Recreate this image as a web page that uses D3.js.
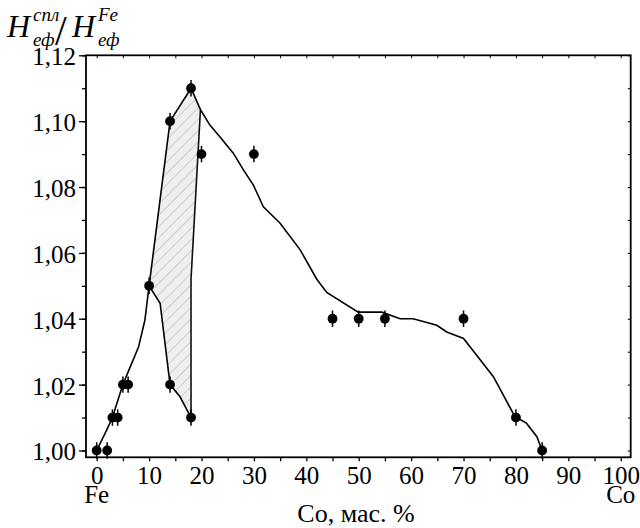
<!DOCTYPE html>
<html>
<head>
<meta charset="utf-8">
<script src="https://cdn.jsdelivr.net/npm/d3@7"></script>
</head>
<body style="margin:0;background:#fff">
<svg id="chart" width="640" height="528" style="display:block"></svg>
<script>
// ---- data ----
const pointX = [0, 2, 3, 4, 5, 6, 10, 14, 14, 18, 18, 20, 30, 45, 50, 55, 70, 80, 85];
const pointY = [1.00, 1.00, 1.01, 1.01, 1.02, 1.02, 1.05, 1.10, 1.02, 1.11, 1.01, 1.09, 1.09, 1.04, 1.04, 1.04, 1.04, 1.01, 1.00];
const errY = 0.0025;

const curveX = [0, 1.9, 3, 5, 6.4, 8, 9.2, 10, 14, 18, 19.8, 21.6, 23.5, 26.1, 28, 29.9, 31.8, 35, 38.8, 42, 43.9, 49.9, 54.4, 57.9, 60.4, 64.9, 66.8, 70, 75.7, 79.8, 82, 84, 85];
const curveY = [1.000, 1.0062, 1.010, 1.020, 1.0254, 1.0315, 1.0396, 1.050, 1.100, 1.110, 1.1035, 1.0988, 1.0953, 1.0902, 1.0852, 1.0806, 1.074, 1.069, 1.061, 1.052, 1.048, 1.042, 1.042, 1.040, 1.040, 1.038, 1.036, 1.034, 1.0224, 1.0103, 1.0083, 1.0042, 1.000];

const lowerX = [10, 12.1, 14, 15.9, 18];
const lowerY = [1.05, 1.0447, 1.02, 1.0163, 1.01];

const edgeX = [19.8, 18, 18];
const edgeY = [1.1035, 1.052, 1.01];

const hatchX = [10, 14, 18, 19.8, 18, 18, 15.9, 14, 12.1];
const hatchY = [1.05, 1.10, 1.11, 1.1035, 1.052, 1.01, 1.0163, 1.02, 1.0447];

const xTicks = [0, 10, 20, 30, 40, 50, 60, 70, 80, 90, 100];
const xMinor = [0, 5, 10, 15, 20, 25, 30, 35, 40, 45, 50, 55, 60, 65, 70, 75, 80, 85, 90, 95, 100];
const yTicks = [1.00, 1.02, 1.04, 1.06, 1.08, 1.10, 1.12];
const yMinor = [1.00, 1.01, 1.02, 1.03, 1.04, 1.05, 1.06, 1.07, 1.08, 1.09, 1.10, 1.11, 1.12];
const fmtY = d => d3.format(".2f")(d).replace(".", ",");

const FONT = "'Liberation Serif'";

// ---- layout ----
const svg = d3.select("#chart");
const pL = 86, pR = 630.7, pT = 55.3, pB = 457.3;
const x = d3.scaleLinear().domain([-2.04, 101.9]).range([pL, pR]);
const y = d3.scaleLinear().domain([0.99793, 1.12]).range([pB, pT]);

// hatch pattern
const defs = svg.append("defs");
const pat = defs.append("pattern")
  .attr("id", "hatch").attr("patternUnits", "userSpaceOnUse")
  .attr("width", 8).attr("height", 8)
  .attr("patternTransform", "rotate(45)");
pat.append("rect").attr("width", 8).attr("height", 8).attr("fill", "#efefef");
pat.append("line").attr("x1", 0).attr("y1", 0).attr("x2", 0).attr("y2", 8)
  .attr("stroke", "#9a9a9a").attr("stroke-width", 0.8);

const line = d3.line().x(d => x(d[0])).y(d => y(d[1]));

// hatched area
svg.append("path")
  .attr("d", line(hatchX.map((v, i) => [v, hatchY[i]])) + "Z")
  .attr("fill", "url(#hatch)").attr("stroke", "none");

// axes
const gx = svg.append("g").attr("transform", `translate(0,${pB})`)
  .call(d3.axisBottom(x).tickValues(xMinor).tickSize(4).tickFormat(""));
gx.select(".domain").remove();
gx.selectAll("line").attr("stroke", "#000").attr("stroke-width", 1.3);
const gxl = svg.append("g").attr("transform", `translate(0,${pB})`)
  .call(d3.axisBottom(x).tickValues(xTicks).tickSize(0).tickPadding(9).tickFormat(d3.format("d")));
gxl.select(".domain").remove();
gxl.selectAll("text").style("font-family", FONT).style("font-size", "25px").attr("fill", "#000");

const gyMinor = svg.append("g").attr("transform", `translate(${pL},0)`)
  .call(d3.axisLeft(y).tickValues(yMinor).tickSize(4).tickFormat(""));
gyMinor.select(".domain").remove();
gyMinor.selectAll("line").attr("stroke", "#000").attr("stroke-width", 1.3);
const gy = svg.append("g").attr("transform", `translate(${pL},0)`)
  .call(d3.axisLeft(y).tickValues(yTicks).tickSize(7).tickPadding(3).tickFormat(fmtY));
gy.select(".domain").remove();
gy.selectAll("line").attr("stroke", "#000").attr("stroke-width", 1.3);
gy.selectAll("text").style("font-family", FONT).style("font-size", "25px").attr("fill", "#000").attr("dy", "0.38em");

// top & right inward small ticks
const gt = svg.append("g").attr("transform", `translate(0,${pT})`)
  .call(d3.axisBottom(x).tickValues(xMinor).tickSize(3).tickFormat(""));
gt.select(".domain").remove();
gt.selectAll("line").attr("stroke", "#000").attr("stroke-width", 1);
const gr = svg.append("g").attr("transform", `translate(${pR},0)`)
  .call(d3.axisLeft(y).tickValues(yMinor).tickSize(3).tickFormat(""));
gr.select(".domain").remove();
gr.selectAll("line").attr("stroke", "#000").attr("stroke-width", 1);

// frame
svg.append("rect").attr("x", pL).attr("y", pT)
  .attr("width", pR - pL).attr("height", pB - pT)
  .attr("fill", "none").attr("stroke", "#000").attr("stroke-width", 1.8);

// lines
svg.append("path").attr("d", line(curveX.map((v, i) => [v, curveY[i]])))
  .attr("fill", "none").attr("stroke", "#000").attr("stroke-width", 1.6);
svg.append("path").attr("d", line(lowerX.map((v, i) => [v, lowerY[i]])))
  .attr("fill", "none").attr("stroke", "#000").attr("stroke-width", 1.6);
svg.append("path").attr("d", line(edgeX.map((v, i) => [v, edgeY[i]])))
  .attr("fill", "none").attr("stroke", "#111").attr("stroke-width", 1.6);

// error bars & points
const pts = pointX.map((v, i) => [v, pointY[i]]);
svg.append("g").selectAll("line").data(pts).join("line")
  .attr("x1", d => x(d[0])).attr("x2", d => x(d[0]))
  .attr("y1", d => y(d[1] - errY)).attr("y2", d => y(d[1] + errY))
  .attr("stroke", "#000").attr("stroke-width", 1.5);
svg.append("g").selectAll("circle").data(pts).join("circle")
  .attr("cx", d => x(d[0])).attr("cy", d => y(d[1])).attr("r", 4.9)
  .attr("fill", "#000");

// text helper
function txt(px, py, s, size, opts = {}) {
  const t = svg.append("text").attr("x", px).attr("y", py)
    .style("font-family", FONT).style("font-size", size + "px")
    .attr("fill", "#000").text(s);
  if (opts.anchor) t.attr("text-anchor", opts.anchor);
  if (opts.italic) t.style("font-style", "italic");
  return t;
}

// axis labels
txt(x(0), 503, "Fe", 25, { anchor: "middle" });
txt(x(100), 503, "Co", 25, { anchor: "middle" });
txt(356, 522, "Co, мас. %", 26, { anchor: "middle" });

// y label
txt(7, 37, "H", 32, { italic: true });
txt(33, 21, "спл", 19, { italic: true });
txt(33, 46, "еф", 19, { italic: true });
txt(55, 45, "/", 42);
txt(72, 37, "H", 32, { italic: true });
txt(98, 21, "Fe", 19, { italic: true });
txt(98, 46, "еф", 19, { italic: true });
</script>
</body>
</html>
